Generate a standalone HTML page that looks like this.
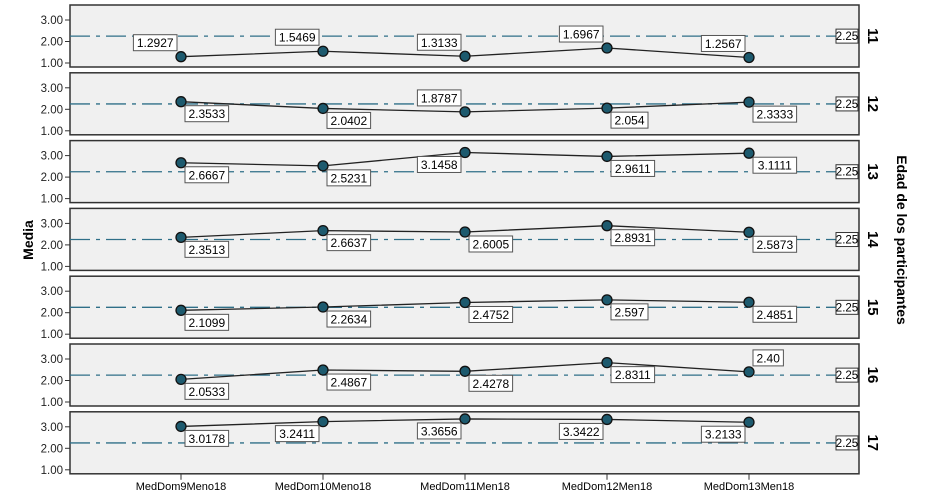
<!DOCTYPE html>
<html><head><meta charset="utf-8"><style>
body{margin:0;background:#fff;}
svg{display:block;font-family:"Liberation Sans",sans-serif;}
</style></head><body>
<svg id="c" width="927" height="501"></svg>
<script>
const categories=["MedDom9Meno18","MedDom10Meno18","MedDom11Men18","MedDom12Men18","MedDom13Men18"];
const groups=["11","12","13","14","15","16","17"];
const v11=[1.2927,1.5469,1.3133,1.6967,1.2567];
const v12=[2.3533,2.0402,1.8787,2.054,2.3333];
const v13=[2.6667,2.5231,3.1458,2.9611,3.1111];
const v14=[2.3513,2.6637,2.6005,2.8931,2.5873];
const v15=[2.1099,2.2634,2.4752,2.597,2.4851];
const v16=[2.0533,2.4867,2.4278,2.8311,2.40];
const v17=[3.0178,3.2411,3.3656,3.3422,3.2133];
const labels11=["1.2927","1.5469","1.3133","1.6967","1.2567"];
const labels12=["2.3533","2.0402","1.8787","2.054","2.3333"];
const labels13=["2.6667","2.5231","3.1458","2.9611","3.1111"];
const labels14=["2.3513","2.6637","2.6005","2.8931","2.5873"];
const labels15=["2.1099","2.2634","2.4752","2.597","2.4851"];
const labels16=["2.0533","2.4867","2.4278","2.8311","2.40"];
const labels17=["3.0178","3.2411","3.3656","3.3422","3.2133"];
const refValue=2.25;
const yTicks=[1,2,3];
const series=[v11,v12,v13,v14,v15,v16,v17];
const seriesLabels=[labels11,labels12,labels13,labels14,labels15,labels16,labels17];
const place=[["AL","AL","AL","AL","AL"],["BR","BR","AL","BR","BR"],["BR","BR","BL","BR","BR"],["BR","BR","BR","BR","BR"],["BR","BR","BR","BR","BR"],["BR","BR","BR","BR","AR"],["BR","BL","BL","BL","BL"]];

const NS="http://www.w3.org/2000/svg";
const svg=document.getElementById('c');
function el(t,a,p){const e=document.createElementNS(NS,t);for(const k in a)e.setAttribute(k,a[k]);(p||svg).appendChild(e);return e;}
const L=70,R=859,PH=62,P0=5,STEP=67.8;
const x=i=>181+i*142;
const yIn=(top,v)=>top+15+(3-v)*21.5;

groups.forEach((g,gi)=>{
  const top=P0+gi*STEP;
  const gp=el('g',{});
  
  
  el('rect',{x:L,y:top,width:R-L,height:PH,fill:'#f0f0f0',stroke:'#333','stroke-width':1.5},gp);
  yTicks.forEach(t=>{
    const yy=yIn(top,t);
    el('line',{x1:L-5,x2:L,y1:yy,y2:yy,stroke:'#333'},gp);
    const tx=el('text',{x:L-7,y:yy+4,'font-size':11.5,'text-anchor':'end',fill:'#222'},gp);
    tx.textContent=t.toFixed(2);
    
    
  });
  const ry=yIn(top,refValue);
  const rl=el('line',{x1:L,x2:R-23,y1:ry,y2:ry,stroke:'#2f6f88','stroke-width':1.3,'stroke-dasharray':'20,6,4,6'},gp);
  
  
  el('rect',{x:R-23,y:ry-7,width:22,height:14,fill:'#fff',stroke:'#333'},gp);
  const rt=el('text',{x:R-12,y:ry+4,'font-size':11.5,'text-anchor':'middle'},gp);
  rt.textContent=refValue.toFixed(2);
  
  
  const vals=series[gi];
  const pts=vals.map((v,i)=>x(i)+','+yIn(top,v)).join(' ');
  const pl=el('polyline',{points:pts,fill:'none',stroke:'#222','stroke-width':1.3},gp);
  
  
  vals.forEach((v,i)=>{
    const cx=x(i),cy=yIn(top,v);
    const c=el('circle',{cx:cx,cy:cy,r:5,fill:'#1d5a6e',stroke:'#111','stroke-width':1.3},gp);
    
    
    const s=seriesLabels[gi][i];const w=s.length*6.6+4,h=16;
    const p=place[gi][i];
    let bx=p[1]==='R'?cx+4:cx-4-w;
    let by=p[0]==='B'?cy+4:cy-6-h;
    el('rect',{x:bx,y:by,width:w,height:h,fill:'#fff',stroke:'#555'},gp);
    const lt=el('text',{x:bx+w/2,y:by+12.5,'font-size':12,'text-anchor':'middle'},gp);
    lt.textContent=s;
    
    
  });
  const gt=el('text',{transform:`translate(${868},${top+PH/2}) rotate(90)`,'font-size':15,'font-weight':'bold','text-anchor':'middle'},gp);
  gt.textContent=g;
  
  
});
const bottom=P0+6*STEP+PH;
categories.forEach((c,i)=>{
  el('line',{x1:x(i),x2:x(i),y1:bottom,y2:bottom+6,stroke:'#333'});
  const t=el('text',{x:x(i),y:bottom+16,'font-size':11,'text-anchor':'middle'});
  t.textContent=c;
  
  
});
const yt=el('text',{transform:'translate(33,240) rotate(-90)','font-size':14,'font-weight':'bold','text-anchor':'middle'});
yt.textContent='Media';


const rt2=el('text',{transform:'translate(897,240) rotate(90)','font-size':14,'font-weight':'bold','text-anchor':'middle'});
rt2.textContent='Edad de los participantes';


</script>
</body></html>
